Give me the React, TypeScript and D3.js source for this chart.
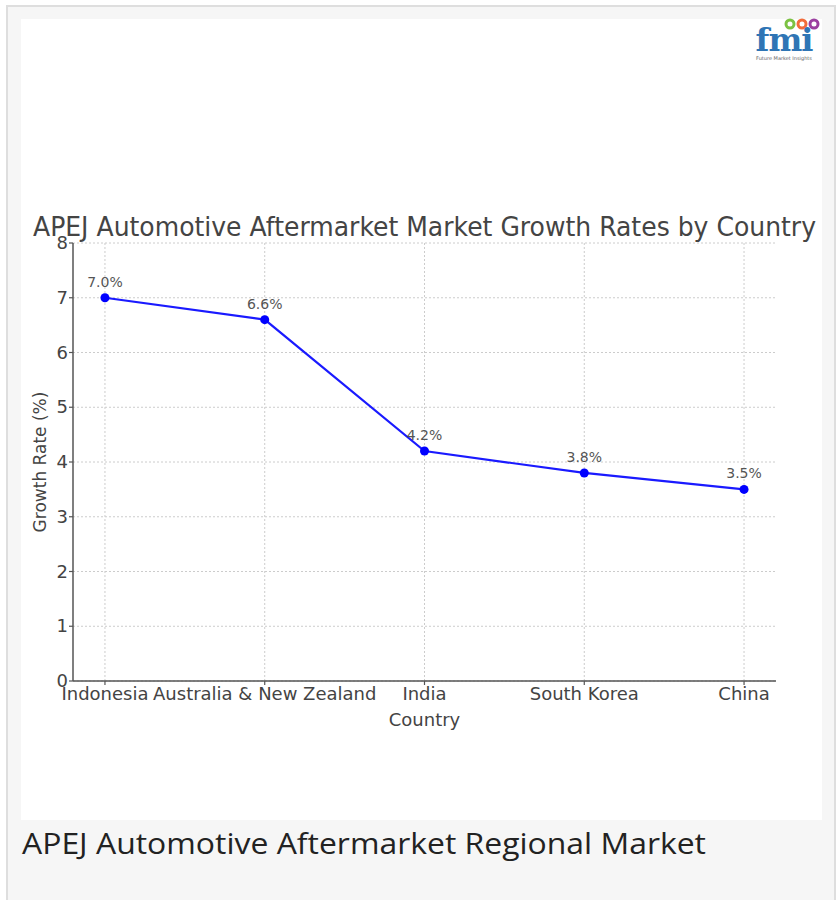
import React from "react";
import * as d3 from "d3";

const countries = ["Indonesia", "Australia & New Zealand", "India", "South Korea", "China"];
const growthRates = [7.0, 6.6, 4.2, 3.8, 3.5];
const yTicks = [0, 1, 2, 3, 4, 5, 6, 7, 8];

const W = 838;
const H = 900;

export default function App() {
  const left = 73, right = 776, top = 243, bottom = 681;
  const x = d3.scaleLinear().domain([-0.2, countries.length - 1 + 0.2]).range([left, right]);
  const y = d3.scaleLinear().domain([0, 8]).range([bottom, top]);
  const line = d3.line<number>().x((_, i) => x(i)).y((d) => y(d));
  const font = "'DejaVu Sans', sans-serif";
  const tc = "#444";

  return (
    <svg width={W} height={H} style={{ position: "absolute", left: 0, top: 0 }}>
      <rect x={0} y={0} width={W} height={H} fill="#fff" />
      <rect x={7} y={6} width={828} height={H} fill="#f6f6f6" stroke="#dedede" strokeWidth={2} />
      <rect x={21} y={19} width={801} height={801} fill="#fff" />

      {/* logo */}
      <g>
        <circle cx={790} cy={24} r={4} fill="none" stroke="#7cc243" strokeWidth={3} />
        <circle cx={802} cy={24} r={4} fill="none" stroke="#f26b3a" strokeWidth={3} />
        <circle cx={814} cy={24} r={4} fill="none" stroke="#9b3fa0" strokeWidth={3} />
        <text x={784} y={51} textAnchor="middle" fontFamily="'DejaVu Serif', serif" fontWeight="bold" fontSize={32} fill="#2f75b5" letterSpacing={-1}>fmi</text>
        <text x={784} y={60} textAnchor="middle" fontFamily={font} fontSize={5} fill="#666">Future Market Insights</text>
      </g>

      {/* grid */}
      {yTicks.map((t) => (
        <line key={"gy" + t} x1={left} x2={right} y1={y(t)} y2={y(t)} stroke="#ccc" strokeWidth={1} strokeDasharray="2,2" />
      ))}
      {countries.map((c, i) => (
        <line key={"gx" + i} x1={x(i)} x2={x(i)} y1={top} y2={bottom} stroke="#ccc" strokeWidth={1} strokeDasharray="2,2" />
      ))}

      {/* spines */}
      <line x1={left} x2={left} y1={top} y2={bottom} stroke="#555" strokeWidth={1.5} />
      <line x1={left} x2={right} y1={bottom} y2={bottom} stroke="#555" strokeWidth={1.5} />

      {/* y ticks */}
      {yTicks.map((t) => (
        <g key={"yt" + t}>
          <line x1={left - 4} x2={left} y1={y(t)} y2={y(t)} stroke="#555" strokeWidth={1.2} />
          <text x={left - 5} y={y(t) + 6} textAnchor="end" fontFamily={font} fontSize={18} fill={tc}>{t}</text>
        </g>
      ))}
      {/* x ticks */}
      {countries.map((c, i) => (
        <g key={"xt" + i}>
          <line x1={x(i)} x2={x(i)} y1={bottom} y2={bottom + 4} stroke="#555" strokeWidth={1.2} />
          <text x={x(i)} y={bottom + 19} textAnchor="middle" fontFamily={font} fontSize={18} fill={tc}>{c}</text>
        </g>
      ))}

      <text x={(left + right) / 2} y={726} textAnchor="middle" fontFamily={font} fontSize={18} fill={tc}>Country</text>
      <text transform={`translate(46,${(top + bottom) / 2}) rotate(-90)`} textAnchor="middle" fontFamily={font} fontSize={17} fill={tc}>Growth Rate (%)</text>

      <text x={33} y={236} textLength={783} lengthAdjust="spacingAndGlyphs" fontFamily={font} fontSize={26} fill="#444">APEJ Automotive Aftermarket Market Growth Rates by Country</text>

      {/* line */}
      <path d={line(growthRates) || ""} fill="none" stroke="#1a1aff" strokeWidth={2.2} />
      {growthRates.map((v, i) => (
        <g key={"p" + i}>
          <circle cx={x(i)} cy={y(v)} r={4.5} fill="#0000ff" />
          <text x={x(i)} y={y(v) - 11} textAnchor="middle" fontFamily={font} fontSize={14} fill="#555">{v.toFixed(1) + "%"}</text>
        </g>
      ))}

      <text x={22} y={854} textLength={684} lengthAdjust="spacingAndGlyphs" fontFamily="'Open Sans', sans-serif" fontSize={30} fill="#222">APEJ Automotive Aftermarket Regional Market</text>
    </svg>
  );
}
